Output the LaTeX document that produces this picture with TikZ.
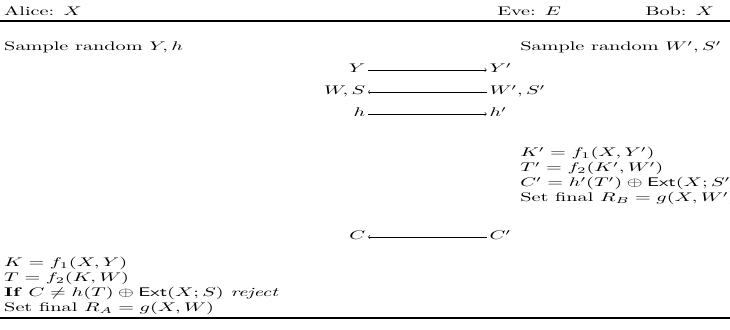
\documentclass[tikz,border=0pt]{standalone}
\usepackage{amsmath}
\usepackage{amssymb}
\usepackage{graphicx}
\usepackage{tikz}
\usetikzlibrary{positioning}

\newcommand{\widetxt}[1]{\scalebox{1.62}[1]{#1}}

\begin{document}
\begin{tikzpicture}[x=0.8pt, y=-0.8pt,
  txt/.style={anchor=base west, inner sep=0pt},
  val/.style={inner xsep=2pt, inner ysep=0pt, text height=1.6ex, text depth=.5ex},
  msg/.style={->, >=to, thin}]
\useasboundingbox (0,0) rectangle (730,330);
\clip (0,0) rectangle (730,330);

% Header
\node[txt] (alice) at (4,16) {\widetxt{Alice: $X$}};
\node[txt] (eve) at (497,16) {\widetxt{Eve: $E$}};
\node[txt] (bob) at (645,16) {\widetxt{Bob: $X$}};
\draw[line width=1pt] (0,21) -- (730,21);

% Sampling
\node[txt] (sampleA) at (4,51) {\widetxt{Sample random $Y, h$}};
\node[txt] (sampleB) at (520,51) {\widetxt{Sample random $W', S'$}};

% Messages
\node[val, anchor=east] (Y) at (368,70) {\widetxt{$Y$}};
\node[val, right=95pt of Y] (Yp) {\widetxt{$Y'$}};
\node[val, anchor=east] (WS) at (368,92) {\widetxt{$W, S$}};
\node[val, right=95pt of WS] (WSp) {\widetxt{$W', S'$}};
\node[val, anchor=east] (h) at (368,114) {\widetxt{$h$}};
\node[val, right=95pt of h] (hp) {\widetxt{$h'$}};
\node[val, anchor=east] (C) at (368,237) {\widetxt{$C$}};
\node[val, right=95pt of C] (Cp) {\widetxt{$C'$}};

% Bob
\node[txt] (bobK) at (520,157) {\widetxt{$K' = f_1(X, Y')$}};
\node[txt] (bobT) at (520,172) {\widetxt{$T' = f_2(K', W')$}};
\node[txt] (bobC) at (520,187) {\widetxt{$C' = h'(T') \oplus \mathsf{Ext}(X; S')$}};
\node[txt] (bobR) at (520,202) {\widetxt{Set final $R_B = g(X, W')$}};

% Alice
\node[txt] (aliceK) at (4,267) {\widetxt{$K = f_1(X, Y)$}};
\node[txt] (aliceT) at (4,282) {\widetxt{$T = f_2(K, W)$}};
\node[txt] (aliceC) at (4,297) {\widetxt{\textbf{If} $C \neq h(T) \oplus \mathsf{Ext}(X; S)$ \textit{reject}}};
\node[txt] (aliceR) at (4,312) {\widetxt{Set final $R_A = g(X, W)$}};
\draw[line width=1pt] (0,318) -- (730,318);

% Arrows
\draw[msg] (Y) -- (Yp);
\draw[msg] (WSp) -- (WS);
\draw[msg] (h) -- (hp);
\draw[msg] (Cp) -- (C);

\end{tikzpicture}
\end{document}
